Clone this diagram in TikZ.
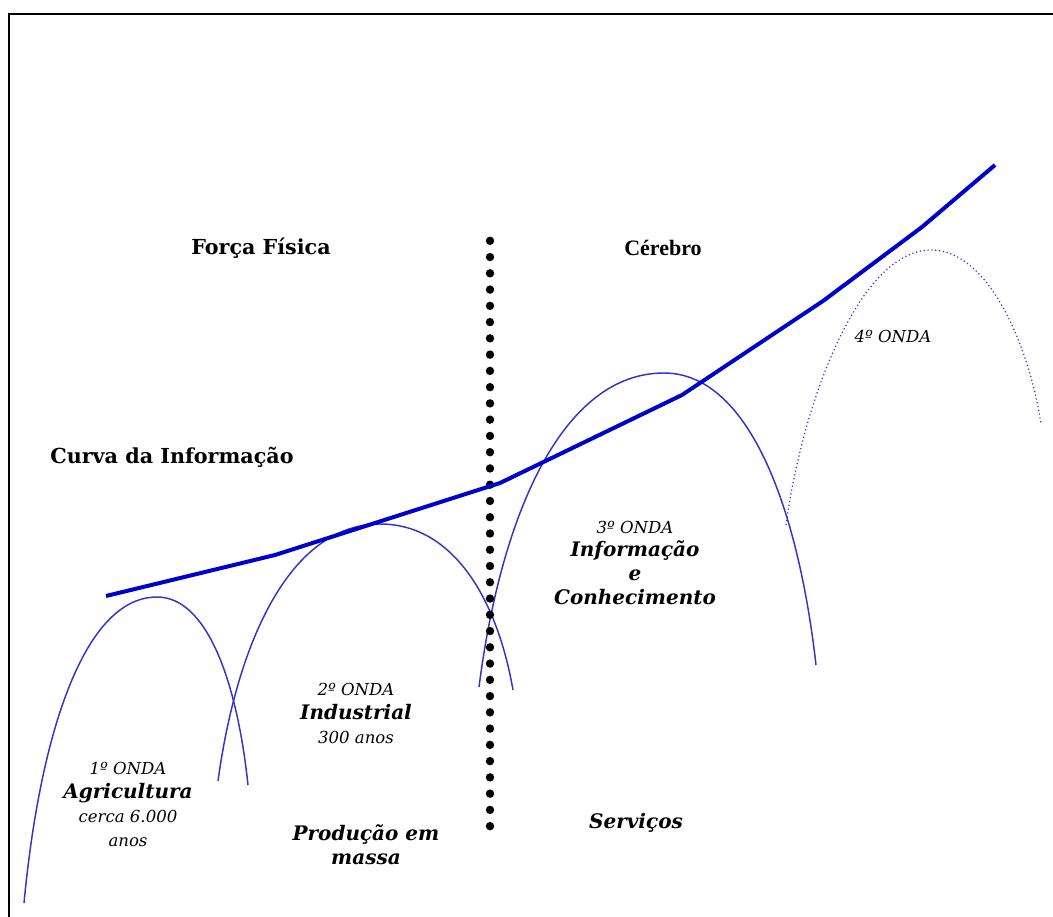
\documentclass[tikz,border=0pt]{standalone}
\usepackage{fontspec}
\setmainfont{DejaVu Serif}
\newfontfamily\estreita{Liberation Serif}
\definecolor{curva}{RGB}{0,0,204}
\definecolor{onda}{RGB}{51,51,204}
\begin{document}
\begin{tikzpicture}[x=.75pt,y=-.75pt,
  titulo/.style={font=\bfseries\fontsize{15.5}{18}\selectfont},
  fase/.style={align=center,font=\itshape\fontsize{12.4}{18}\selectfont},
  forte/.style={font=\bfseries\itshape\fontsize{15}{18}\selectfont},
  onda/.style={draw=onda,line width=1.1pt},
  curva/.style={draw=curva,line width=3pt,line join=round}]
\useasboundingbox (0,0) rectangle (1053,917);
\begin{scope}
\clip (0,0) rectangle (1053,917);
\draw[line width=1.5pt] (9,14) rectangle (1070,930);
\end{scope}
\foreach \xa/\ya/\xp/\yp/\xb/\yb [count=\n] in {24/903/157/597/248/785,218/781/380/524/513/690,479/687/664/373/816/665}{
  \draw[onda] (\xa,\ya) .. controls ({\xa+.12*(\xp-\xa)},{\ya-.55*(\ya-\yp)}) and ({\xp-.55*(\xp-\xa)},\yp) .. (\xp,\yp)
    .. controls ({\xp+.55*(\xb-\xp)},\yp) and ({\xb-.12*(\xb-\xp)},{\yb-.55*(\yb-\yp)}) .. (\xb,\yb);
}
\draw[onda,line width=.9pt,dash pattern=on .9pt off 2pt] (786,525) .. controls (803,400) and (860,250) .. (931,250)
  .. controls (990,250) and (1030,350) .. (1041,424);
\foreach \i in {0,...,36}
  \fill (490,240.8+16.26*\i) circle (4.2);
\coordinate (c1) at (106,596);
\coordinate (c2) at (275,555);
\coordinate (c3) at (500,483);
\coordinate (c4) at (682,395);
\coordinate (c5) at (823,301);
\coordinate (c6) at (922,227);
\coordinate (c7) at (995,165);
\draw[curva] (c1) -- (c2) -- (c3) -- (c4) -- (c5) -- (c6) -- (c7);
\node[titulo] (forca) at (261,248) {Força Física};
\node[font=\estreita\bfseries\fontsize{16.5}{18}\selectfont] (cerebro) at (663,248) {Cérebro};
\node[titulo] (info) at (172,457) {Curva da Informação};
\node[fase] (onda4) at (893,336) {4º ONDA};
\node[fase] (onda3) at (635,563) {3º ONDA\\\textbf{\fontsize{15}{18}\selectfont Informação}\\\textbf{\fontsize{15}{18}\selectfont e}\\\textbf{\fontsize{15}{18}\selectfont Conhecimento}};
\node[fase] (onda2) at (356,713) {2º ONDA\\\textbf{\fontsize{15}{18}\selectfont Industrial}\\300 anos};
\node[fase] (onda1) at (128,804) {1º ONDA\\\textbf{\fontsize{15}{18}\selectfont Agricultura}\\cerca 6.000\\anos};
\node[forte,align=center] (massa) at (366,845) {Produção em\\massa};
\node[forte] (servicos) at (636,823) {Serviços};
\end{tikzpicture}
\end{document}
